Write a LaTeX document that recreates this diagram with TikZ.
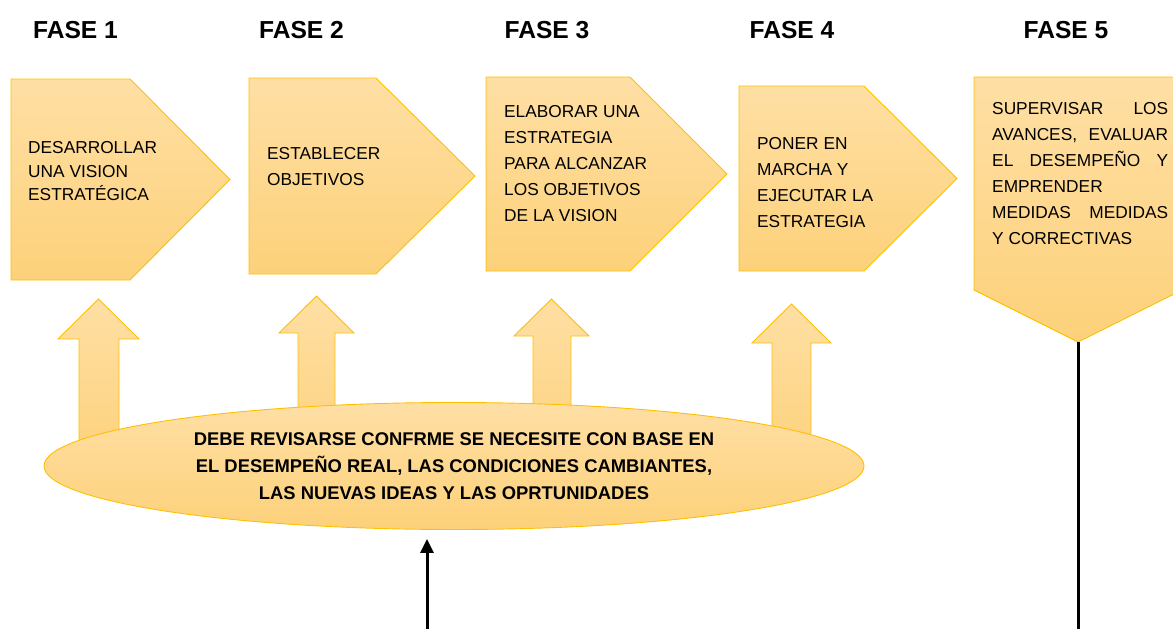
\documentclass[tikz,border=0pt]{standalone}
\usepackage{fontspec}
\setmainfont{Liberation Sans}
\usetikzlibrary{shapes.geometric,arrows.meta}
\definecolor{boxtop}{RGB}{254,223,164}
\definecolor{boxbot}{RGB}{253,209,122}
\definecolor{boxline}{RGB}{255,192,0}
\tikzset{
  phase/.style={top color=boxtop, bottom color=boxbot, draw=boxline, line width=0.9pt, line join=miter},
  heading/.style={font=\bfseries\fontsize{24.6}{28}\selectfont, inner sep=0pt},
  boxtext/.style={anchor=base west, inner sep=0pt},
  blackline/.style={line width=3pt, black}
}
\newcommand{\boxlines}[3]{\parbox[t]{#1}{\raggedright\fontsize{17.3}{#2}\selectfont #3}}
\begin{document}
\begin{tikzpicture}[x=1pt,y=-1pt]
\useasboundingbox (0,0) rectangle (1173,629);
\clip (0,0) rectangle (1173,629);

% headings
\node[heading] (h1) at (75.5,30) {FASE 1};
\node[heading] (h2) at (301.5,30) {FASE 2};
\node[heading] (h3) at (547,30) {FASE 3};
\node[heading] (h4) at (792,30) {FASE 4};
\node[heading] (h5) at (1066,30) {FASE 5};

% phase shapes
\path[phase] (11,79) -- (130,79) -- (230,179.5) -- (130,280) -- (11,280) -- cycle;
\path[phase] (249,78) -- (376,78) -- (475,176) -- (376,274) -- (249,274) -- cycle;
\path[phase] (486,77) -- (630,77) -- (727,174) -- (630,271) -- (486,271) -- cycle;
\path[phase] (739,86) -- (864,86) -- (957,178.5) -- (864,271) -- (739,271) -- cycle;
\path[phase] (974,77) -- (1182,77) -- (1182,290) -- (1078,342) -- (974,290) -- cycle;

% texts
\node[boxtext] (t1) at (28,153.5) {\boxlines{200pt}{23.5}{DESARROLLAR\\UNA VISION\\ESTRATÉGICA}};
\node[boxtext] (t2) at (267,159.5) {\boxlines{200pt}{26}{ESTABLECER\\OBJETIVOS}};
\node[boxtext] (t3) at (504,117) {\boxlines{200pt}{26}{ELABORAR UNA\\ESTRATEGIA\\PARA ALCANZAR\\LOS OBJETIVOS\\DE LA VISION}};
\node[boxtext] (t4) at (757,149) {\boxlines{200pt}{26}{PONER EN\\MARCHA Y\\EJECUTAR LA\\ESTRATEGIA}};
\node[boxtext] (t5) at (992,114) {\parbox[t]{176pt}{\fontsize{17.3}{26}\selectfont
  \hbox to 176pt{SUPERVISAR\hfill LOS}
  \hbox to 176pt{AVANCES,\hfill EVALUAR}
  \hbox to 176pt{EL\hfill DESEMPEÑO\hfill Y}
  \hbox to 176pt{EMPRENDER\hfill}
  \hbox to 176pt{MEDIDAS\hfill MEDIDAS}
  \hbox to 176pt{Y CORRECTIVAS\hfill}}};

% up block arrows
\path[phase] (98.5,299) -- (139,339) -- (119,339) -- (119,470) -- (79,470) -- (79,339) -- (58,339) -- cycle;
\path[phase] (316.5,296) -- (354,333) -- (335,333) -- (335,470) -- (298,470) -- (298,333) -- (279,333) -- cycle;
\path[phase] (551.5,299) -- (589,336) -- (571,336) -- (571,470) -- (533,470) -- (533,336) -- (514,336) -- cycle;
\path[phase] (791.5,304) -- (831,343) -- (811,343) -- (811,470) -- (772,470) -- (772,343) -- (752,343) -- cycle;

% ellipse
\node[ellipse, phase, minimum width=820pt, minimum height=127pt, inner sep=0pt,
      align=center, font=\bfseries\fontsize{18.4}{27}\selectfont] (ell) at (454,466)
  {DEBE REVISARSE CONFRME SE NECESITE CON BASE EN\\EL DESEMPEÑO REAL, LAS CONDICIONES CAMBIANTES,\\LAS NUEVAS IDEAS Y LAS OPRTUNIDADES};

% connectors
\coordinate (src) at (427,629);
\coordinate (tip5) at (1078,342);
\coordinate (end5) at (1078,629);
\draw[blackline, -{Triangle[length=14pt,width=13pt]}, shorten >=9pt] (src) -- (src |- ell.south);
\draw[blackline] (tip5) -- (end5);
\end{tikzpicture}
\end{document}
